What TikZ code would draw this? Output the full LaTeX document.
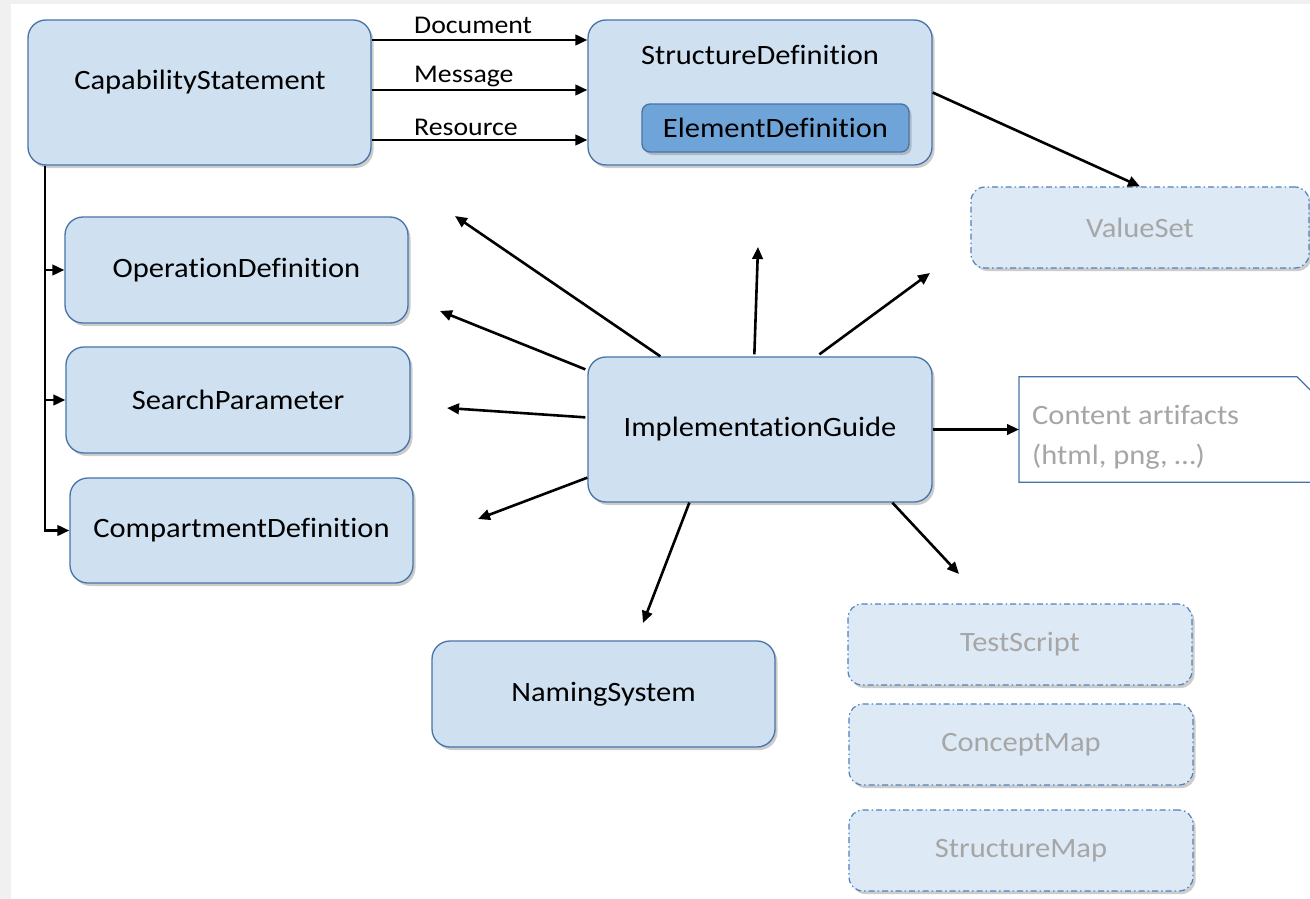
\documentclass[tikz,border=0pt]{standalone}
\usepackage{fontspec}
\setmainfont{Carlito}[FakeStretch=1.09,Ligatures=NoCommon]
\usetikzlibrary{shadows,arrows.meta,calc}
\definecolor{boxfill}{HTML}{CFE0F1}
\definecolor{boxdraw}{HTML}{4674A8}
\definecolor{edfill}{HTML}{6FA4D8}
\definecolor{fadefill}{HTML}{DDE9F5}
\definecolor{fadedraw}{HTML}{4F81BD}
\definecolor{graytext}{HTML}{A6A6A6}
\definecolor{bgstrip}{HTML}{F0F0F0}
\begin{document}
\begin{tikzpicture}[x=1pt,y=-1pt,
  sz/.style 2 args={minimum width=#1,minimum height=#2},
  shadowed/.style={drop shadow={opacity=0.4,shadow xshift=2.5pt,shadow yshift=-3pt}},
  mainbox/.style={draw=boxdraw,fill=boxfill,line width=1.3pt,rounded corners=18pt,inner sep=0pt,
    font=\fontsize{28}{32}\selectfont,shadowed},
  edbox/.style={draw=boxdraw,fill=edfill,line width=1.3pt,rounded corners=8pt,inner sep=0pt,
    font=\fontsize{28}{32}\selectfont,shadowed},
  fadebox/.style={draw=fadedraw,fill=fadefill,line width=1.2pt,rounded corners=14pt,inner sep=0pt,
    dash pattern=on 6pt off 3pt on 1.5pt off 3pt,text=graytext,
    font=\fontsize{28}{32}\selectfont,shadowed},
  txt/.style={inner sep=0pt,font=\fontsize{28}{32}\selectfont},
  lbl/.style={inner sep=0pt,font=\fontsize{25.5}{28}\selectfont},
  arr/.style={line width=2.6pt,-{Triangle[length=12pt,width=10.5pt]}},
  line/.style={line width=2.6pt}]
\useasboundingbox (0,0) rectangle (1310,899);
\fill[white] (0,0) rectangle (1310,899);
\fill[bgstrip] (0,0) rectangle (11,899);
\fill[bgstrip] (0,0) rectangle (1310,4);
\clip (0,0) rectangle (1310,899);

% boxes
\node[mainbox,sz={343}{145}] (cs) at (199.5,92.5) {};
\node[txt] (cst) at (200,82) {CapabilityStatement};
\node[mainbox,sz={344}{145}] (sd) at (760,92.5) {};
\node[txt] (sdt) at (760,55) {StructureDefinition};
\node[edbox,sz={267}{48}] (ed) at (775.5,128) {ElementDefinition};
\node[fadebox,sz={338}{81}] (vs) at (1140,227.5) {ValueSet};
\node[mainbox,sz={343}{106}] (od) at (236.5,270) {OperationDefinition};
\node[mainbox,sz={344}{106}] (sp) at (238,400) {SearchParameter};
\node[mainbox,sz={343}{105}] (cd) at (241.5,530.5) {CompartmentDefinition};
\node[mainbox,sz={344}{145}] (ig) at (760,429.5) {ImplementationGuide};
\node[mainbox,sz={343}{106}] (ns) at (603.5,694) {NamingSystem};
\node[fadebox,sz={344}{81}] (ts) at (1020,644.5) {TestScript};
\node[fadebox,sz={344}{81}] (cm) at (1021,744.5) {ConceptMap};
\node[fadebox,sz={344}{81}] (sm) at (1021,850.5) {StructureMap};

% content artifacts (folded note)
\node[inner sep=0pt,sz={311}{105},anchor=west] (ca) at (1019,429.5) {};
\draw[boxdraw,line width=1.3pt,fill=white] (ca.south west) -- (ca.north west) -- ++(278,0) -- ++(33,33) -- (ca.south east) -- cycle;
\node[txt,text=graytext,anchor=west,align=left,font=\fontsize{28}{40}\selectfont] (cat) at (1032,437) {Content artifacts\\(html, png, …)};

% CapabilityStatement -> StructureDefinition
\coordinate (doc) at (0,40);
\coordinate (msg) at (0,90);
\coordinate (res) at (0,140);
\draw[arr] (cs.east |- doc) -- (sd.west |- doc);
\draw[arr] (cs.east |- msg) -- (sd.west |- msg);
\draw[arr] (cs.east |- res) -- (sd.west |- res);
\node[lbl,anchor=west] (ldoc) at (414,25) {Document};
\node[lbl,anchor=west] (lmsg) at (414,77) {Message};
\node[lbl,anchor=west] (lres) at (414,127) {Resource};

% StructureDefinition -> ValueSet
\draw[arr] (sd.east) -- (vs.north);

% CapabilityStatement trunk
\coordinate (trunk) at (45,0);
\draw[arr] (cs.south -| trunk) |- (cd.west);
\draw[arr] (trunk |- od.west) -- (od.west);
\draw[arr] (trunk |- sp.west) -- (sp.west);

% ImplementationGuide rays
\coordinate (e1) at (455,216);
\coordinate (e2) at (758,247);
\coordinate (e3) at (930,273);
\coordinate (e4) at (440,311);
\coordinate (e5) at (447,408);
\coordinate (e6) at (478,519);
\coordinate (e7) at (643,623);
\coordinate (e8) at (959,574);
\draw[arr] ($(ig.north west)+(73,0)$) -- (e1);
\draw[arr] ($(ig.north west)+(167,-2)$) -- (e2);
\draw[arr] ($(ig.north west)+(232,-2)$) -- (e3);
\draw[arr] ($(ig.north west)+(-2,13)$) -- (e4);
\draw[arr] ($(ig.north west)+(-2,61)$) -- (e5);
\draw[arr] ($(ig.south west)+(0,-25)$) -- (e6);
\draw[arr] ($(ig.south west)+(102,0)$) -- (e7);
\draw[arr] ($(ig.south west)+(305,0)$) -- (e8);
\draw[arr] (ig.east) -- (ca.west);
\end{tikzpicture}
\end{document}
